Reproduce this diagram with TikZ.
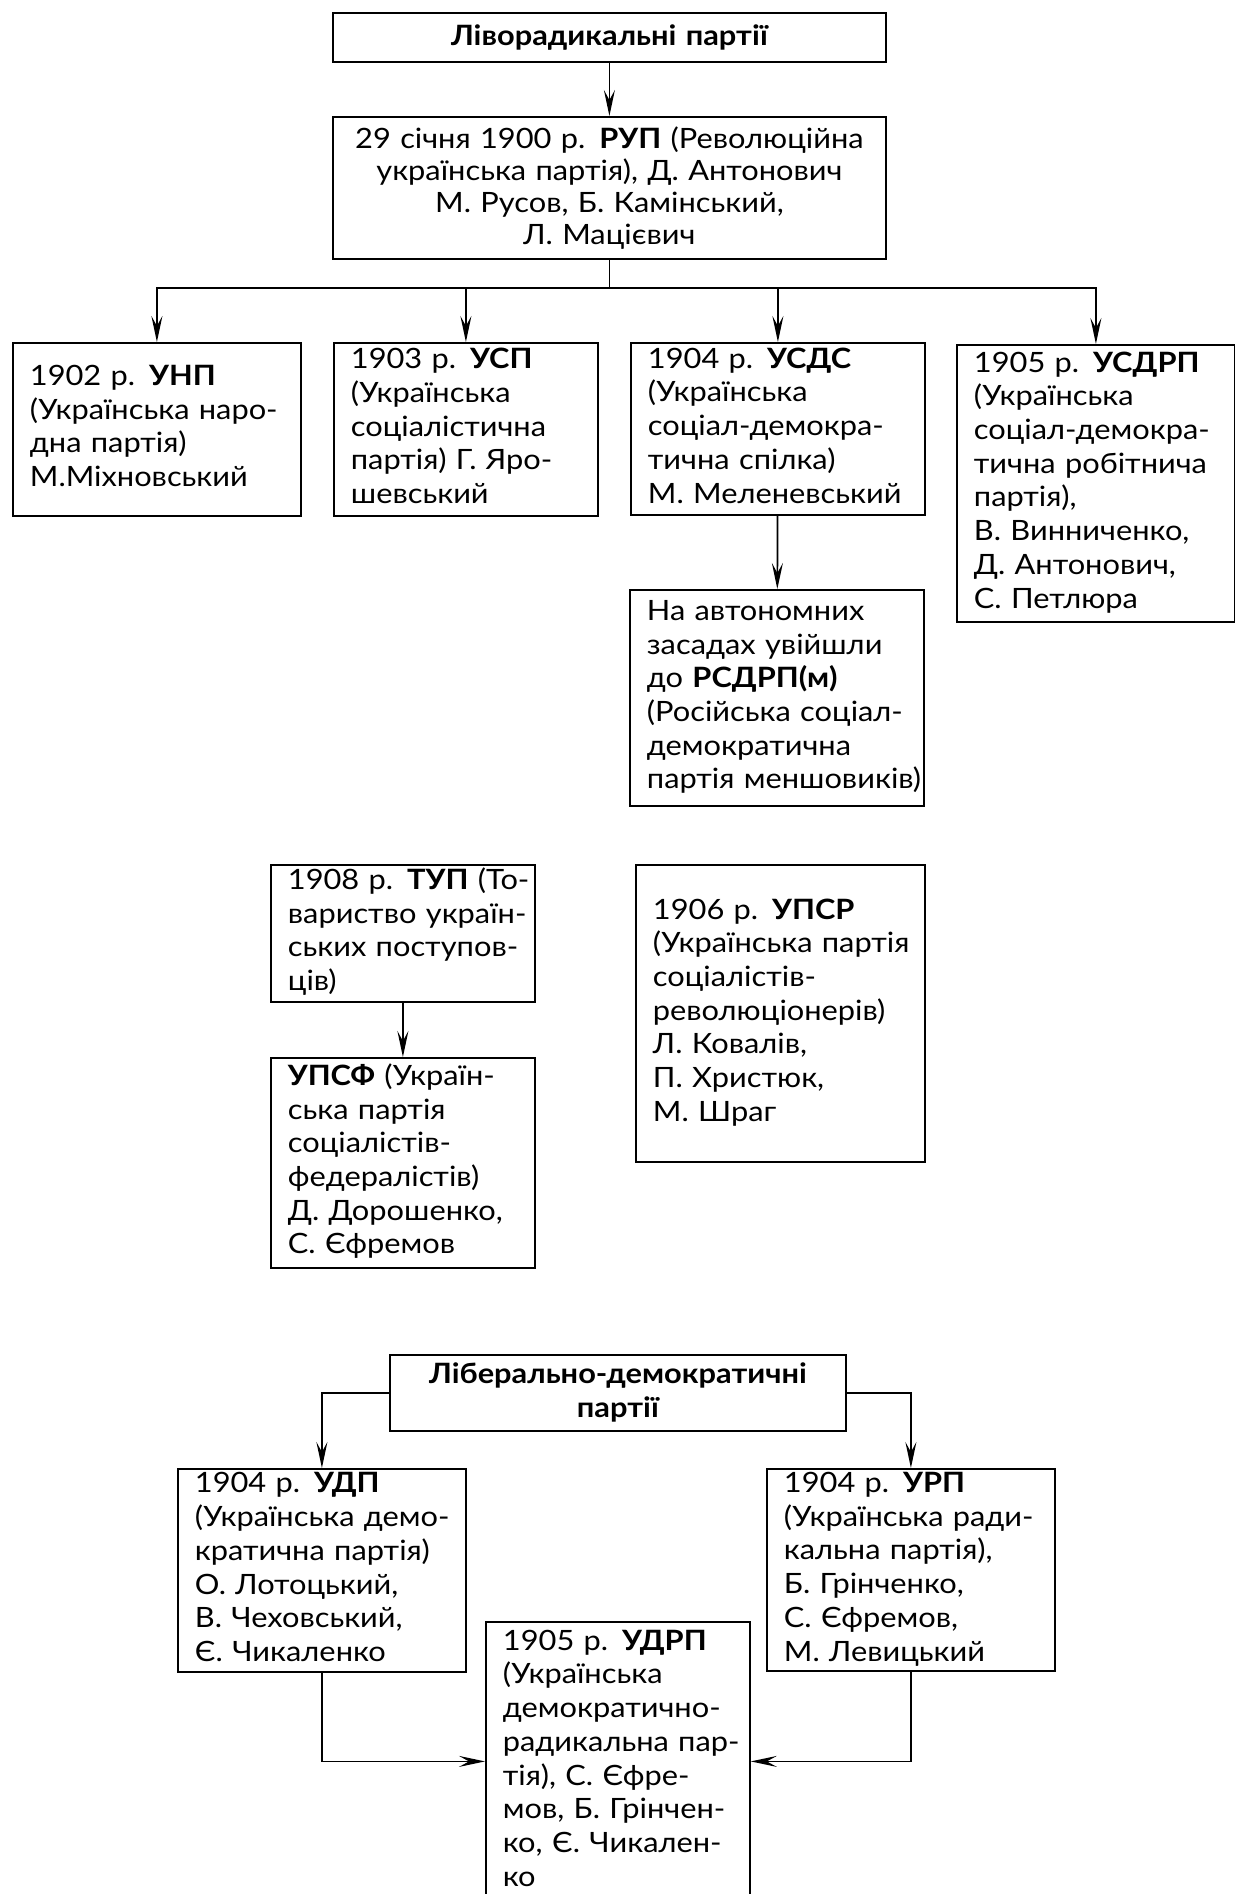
\documentclass[tikz,border=0pt]{standalone}
\usepackage{fontspec}
\setmainfont{Lato}[FakeStretch=1.1]
\usetikzlibrary{arrows.meta}
\newcommand\partfont{\fontsize{14}{16.85}\selectfont}
\newcommand\headfont{\fontsize{14}{17}\selectfont\bfseries}
\newcommand\partlines[1]{\begin{tabular}{@{}l@{}}#1\end{tabular}}
\tikzset{
  partbox/.style={draw, line width=0.9pt, anchor=north west, align=left,
    inner xsep=8.5pt, inner ysep=0pt, font=\partfont},
  headbox/.style={partbox, align=center, font=\headfont},
  link/.style={line width=0.85pt},
  >={Stealth[length=13pt,width=5.5pt,inset=5pt]}
}
\begin{document}
\begin{tikzpicture}[x=0.5pt, y=-0.5pt]
\useasboundingbox (0,0) rectangle (1235,1894);

%ліворадикальні
\node[headbox, text width=259.5pt, minimum height=24.5pt] (leftp) at (332,12) {Ліворадикальні партії};
\node[partbox, align=center, text width=259.5pt, minimum height=71pt,
  font=\fontsize{14}{16}\selectfont] (rup) at (332,116)
  {29 січня 1900 р. \textbf{РУП} (Революційна\\українська партія), Д. Антонович\\М. Русов, Б. Камінський,\\Л. Мацієвич};
\draw[link,->] (leftp) -- (rup);

\node[partbox, text width=127pt, minimum height=86.5pt] (unp) at (12,342)
  {\partlines{1902 р. \textbf{УНП}\\(Українська наро-\\дна партія)\\М.Міхновський}};
\node[partbox, text width=115pt, minimum height=86.5pt] (usp) at (333,342)
  {\partlines{1903 р. \textbf{УСП}\\(Українська\\соціалістична\\партія) Г. Яро-\\шевський}};
\node[partbox, text width=130pt, minimum height=86pt] (usds) at (630,342)
  {\partlines{1904 р. \textbf{УСДС}\\(Українська\\соціал-демокра-\\тична спілка)\\М. Меленевський}};
\node[partbox, text width=122pt, minimum height=138.5pt] (usdrp) at (956,344)
  {\partlines{1905 р. \textbf{УСДРП}\\(Українська\\соціал-демокра-\\тична робітнича\\партія),\\В. Винниченко,\\Д. Антонович,\\С. Петлюра}};
\node[partbox, text width=130pt, minimum height=108pt] (rsdrp) at (629,589)
  {\partlines{На автономних\\засадах увійшли\\до \textbf{РСДРП(м)}\\(Російська соціал-\\демократична\\партія меншовиків)}};

%розгалуження
\coordinate (fork) at (rup.south |- 0,288);
\draw[link] (rup) -- (fork);
\draw[link,->] (fork) -| (unp.north);
\draw[link,->] (fork) -| (usp.north);
\draw[link,->] (fork) -| (usds.north);
\draw[link,->] (fork) -| (usdrp.north);
\draw[link,->] (usds) -- (rsdrp);

%1906-1908
\node[partbox, text width=115pt, minimum height=68.5pt] (tup) at (270,864)
  {\partlines{1908 р. \textbf{ТУП} (То-\\вариство україн-\\ських поступов-\\ців)}};
\node[partbox, text width=115pt, minimum height=105pt] (upsf) at (270,1057)
  {\partlines{\textbf{УПСФ} (Україн-\\ська партія\\соціалістів-\\федералістів)\\Д. Дорошенко,\\С. Єфремов}};
\node[partbox, text width=127.5pt, minimum height=148.5pt] (upsr) at (635,864)
  {\partlines{1906 р. \textbf{УПСР}\\(Українська партія\\соціалістів-\\революціонерів)\\Л. Ковалів,\\П. Христюк,\\М. Шраг}};
\draw[link,->] (tup) -- (upsf);

%ліберали
\node[headbox, text width=211pt, minimum height=38pt] (lib) at (389,1354)
  {Ліберально-демократичні\\партії};
\node[partbox, text width=127pt, minimum height=101.5pt] (udp) at (177,1468)
  {\partlines{1904 р. \textbf{УДП}\\(Українська демо-\\кратична партія)\\О. Лотоцький,\\В. Чеховський,\\Є. Чикаленко}};
\node[partbox, text width=127pt, minimum height=101pt] (urp) at (766,1468)
  {\partlines{1904 р. \textbf{УРП}\\(Українська ради-\\кальна партія),\\Б. Грінченко,\\С. Єфремов,\\М. Левицький}};
\node[partbox, text width=115pt, minimum height=139.5pt] (udrp) at (485,1621)
  {\partlines{1905 р. \textbf{УДРП}\\(Українська\\демократично-\\радикальна пар-\\тія), С. Єфре-\\мов, Б. Грінчен-\\ко, Є. Чикален-\\ко}};
\draw[link,->] (lib.west) -| (udp.north);
\draw[link,->] (lib.east) -| (urp.north);
\draw[link,->] (udp.south) |- (udrp.west);
\draw[link,->] (urp.south) |- (udrp.east);
\end{tikzpicture}
\end{document}
